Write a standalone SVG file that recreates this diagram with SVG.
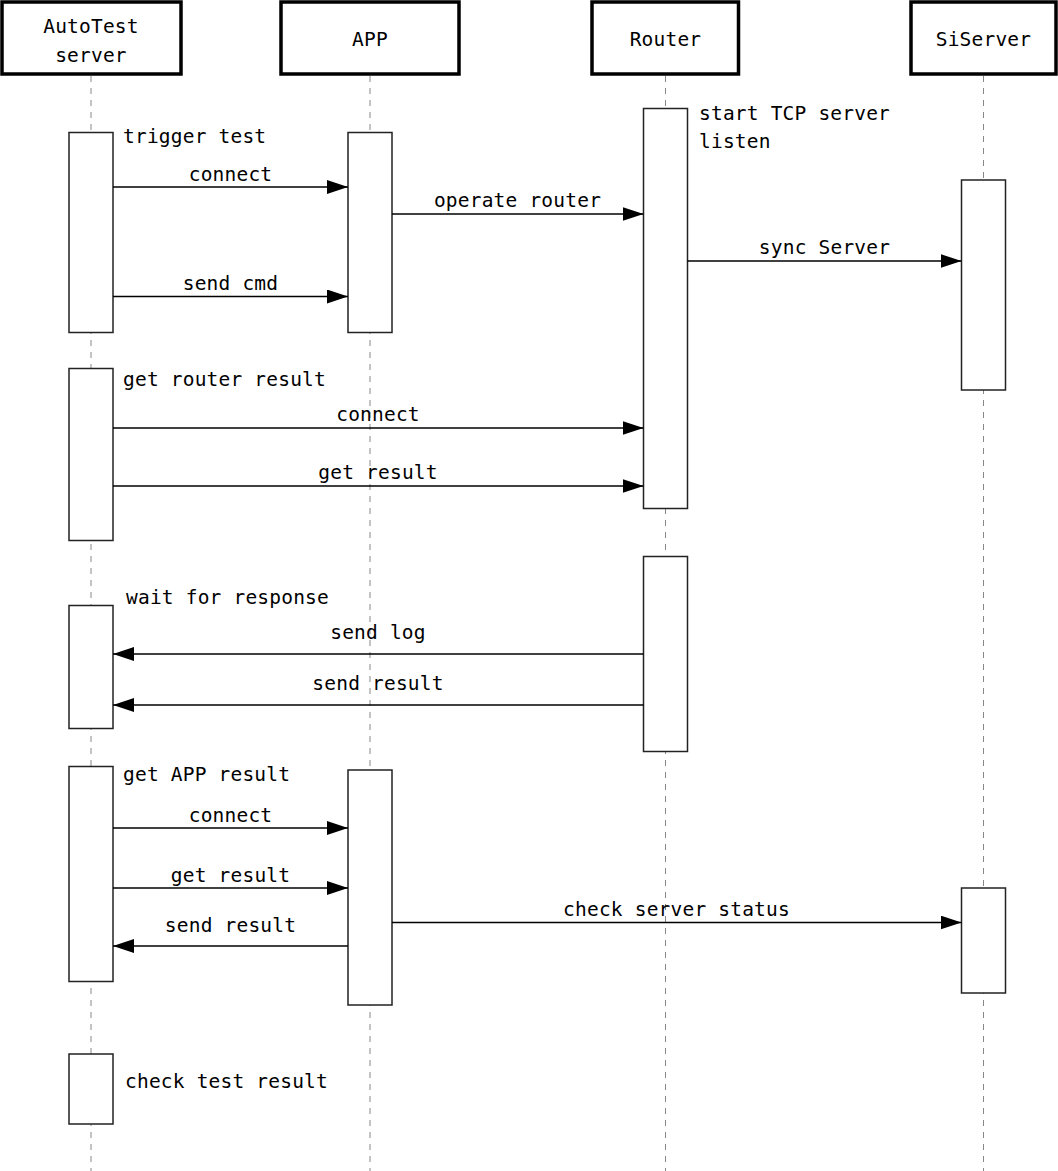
<svg xmlns="http://www.w3.org/2000/svg" width="1058" height="1171" viewBox="0 0 1058 1171">
  <style>
    text { font-family: "DejaVu Sans Mono", "Liberation Mono", monospace; font-size: 19.5px; letter-spacing: 0.2px; fill: #000; }
    .mid { text-anchor: middle; }
    .head { fill: #fff; stroke: #000; stroke-width: 3.5; }
    .life { stroke: #888; stroke-width: 1; stroke-dasharray: 6 6; fill: none; }
    .act { fill: #fff; stroke: #222; stroke-width: 1.5; }
    .msg { stroke: #000; stroke-width: 1.5; fill: none; marker-end: url(#arrow); }
  </style>
  <defs>
    <marker id="arrow" markerUnits="userSpaceOnUse" markerWidth="22" markerHeight="16" refX="21" refY="7" orient="auto">
      <path d="M0,0 L21,7 L0,14 Z" fill="#000"/>
    </marker>
  </defs>
  <rect width="1058" height="1171" fill="#fff"/>

  <!-- lifelines -->
  <g id="lifelines">
    <line class="life" x1="91" y1="76" x2="91" y2="1171"/>
    <line class="life" x1="370" y1="76" x2="370" y2="1171"/>
    <line class="life" x1="665.5" y1="76" x2="665.5" y2="1171"/>
    <line class="life" x1="983.5" y1="76" x2="983.5" y2="1171"/>
  </g>

  <!-- participants -->
  <g id="autotest">
    <rect class="head" x="2" y="2" width="179" height="72"/>
    <text class="mid" x="91" y="33">AutoTest</text>
    <text class="mid" x="91" y="62">server</text>
    <rect class="act" x="69" y="132.5" width="44" height="200"/>
    <rect class="act" x="69" y="368.5" width="44" height="172"/>
    <rect class="act" x="69" y="605.5" width="44" height="123"/>
    <rect class="act" x="69" y="766.5" width="44" height="215"/>
    <rect class="act" x="69" y="1054" width="44" height="70"/>
  </g>
  <g id="app">
    <rect class="head" x="281" y="2" width="178" height="72"/>
    <text class="mid" x="370" y="46">APP</text>
    <rect class="act" x="348" y="132.5" width="44" height="200"/>
    <rect class="act" x="348" y="770" width="44" height="235"/>
  </g>
  <g id="router">
    <rect class="head" x="592" y="2" width="146.5" height="72"/>
    <text class="mid" x="665.5" y="46">Router</text>
    <rect class="act" x="643.5" y="108.5" width="44" height="400"/>
    <rect class="act" x="643.5" y="556.5" width="44" height="195"/>
  </g>
  <g id="siserver">
    <rect class="head" x="911" y="2" width="145" height="72"/>
    <text class="mid" x="983.5" y="46">SiServer</text>
    <rect class="act" x="961.5" y="180" width="44" height="210"/>
    <rect class="act" x="961.5" y="888" width="44" height="105"/>
  </g>

  <!-- notes beside activations -->
  <g id="notes">
    <text x="123" y="143">trigger test</text>
    <text x="699" y="120">start TCP server</text>
    <text x="699" y="148">listen</text>
    <text x="123" y="386">get router result</text>
    <text x="126" y="604">wait for response</text>
    <text x="123" y="781">get APP result</text>
    <text x="125" y="1088">check test result</text>
  </g>

  <!-- messages -->
  <g id="connectors">
    <line class="msg" x1="113" y1="187" x2="348" y2="187"/>
    <text class="mid" x="230.5" y="181">connect</text>

    <line class="msg" x1="392" y1="214" x2="643.5" y2="214"/>
    <text class="mid" x="517.5" y="207">operate router</text>

    <line class="msg" x1="687.5" y1="261" x2="961.5" y2="261"/>
    <text class="mid" x="824.5" y="254">sync Server</text>

    <line class="msg" x1="113" y1="296.5" x2="348" y2="296.5"/>
    <text class="mid" x="230.5" y="290">send cmd</text>

    <line class="msg" x1="113" y1="428" x2="643.5" y2="428"/>
    <text class="mid" x="378" y="421">connect</text>

    <line class="msg" x1="113" y1="486" x2="643.5" y2="486"/>
    <text class="mid" x="378" y="479">get result</text>

    <line class="msg" x1="643.5" y1="654" x2="113" y2="654"/>
    <text class="mid" x="378" y="639">send log</text>

    <line class="msg" x1="643.5" y1="705" x2="113" y2="705"/>
    <text class="mid" x="378" y="690">send result</text>

    <line class="msg" x1="113" y1="828" x2="348" y2="828"/>
    <text class="mid" x="230.5" y="822">connect</text>

    <line class="msg" x1="113" y1="888" x2="348" y2="888"/>
    <text class="mid" x="230.5" y="882">get result</text>

    <line class="msg" x1="392" y1="922.5" x2="961.5" y2="922.5"/>
    <text class="mid" x="676.5" y="916">check server status</text>

    <line class="msg" x1="348" y1="946" x2="113" y2="946"/>
    <text class="mid" x="230.5" y="932">send result</text>
  </g>
</svg>
